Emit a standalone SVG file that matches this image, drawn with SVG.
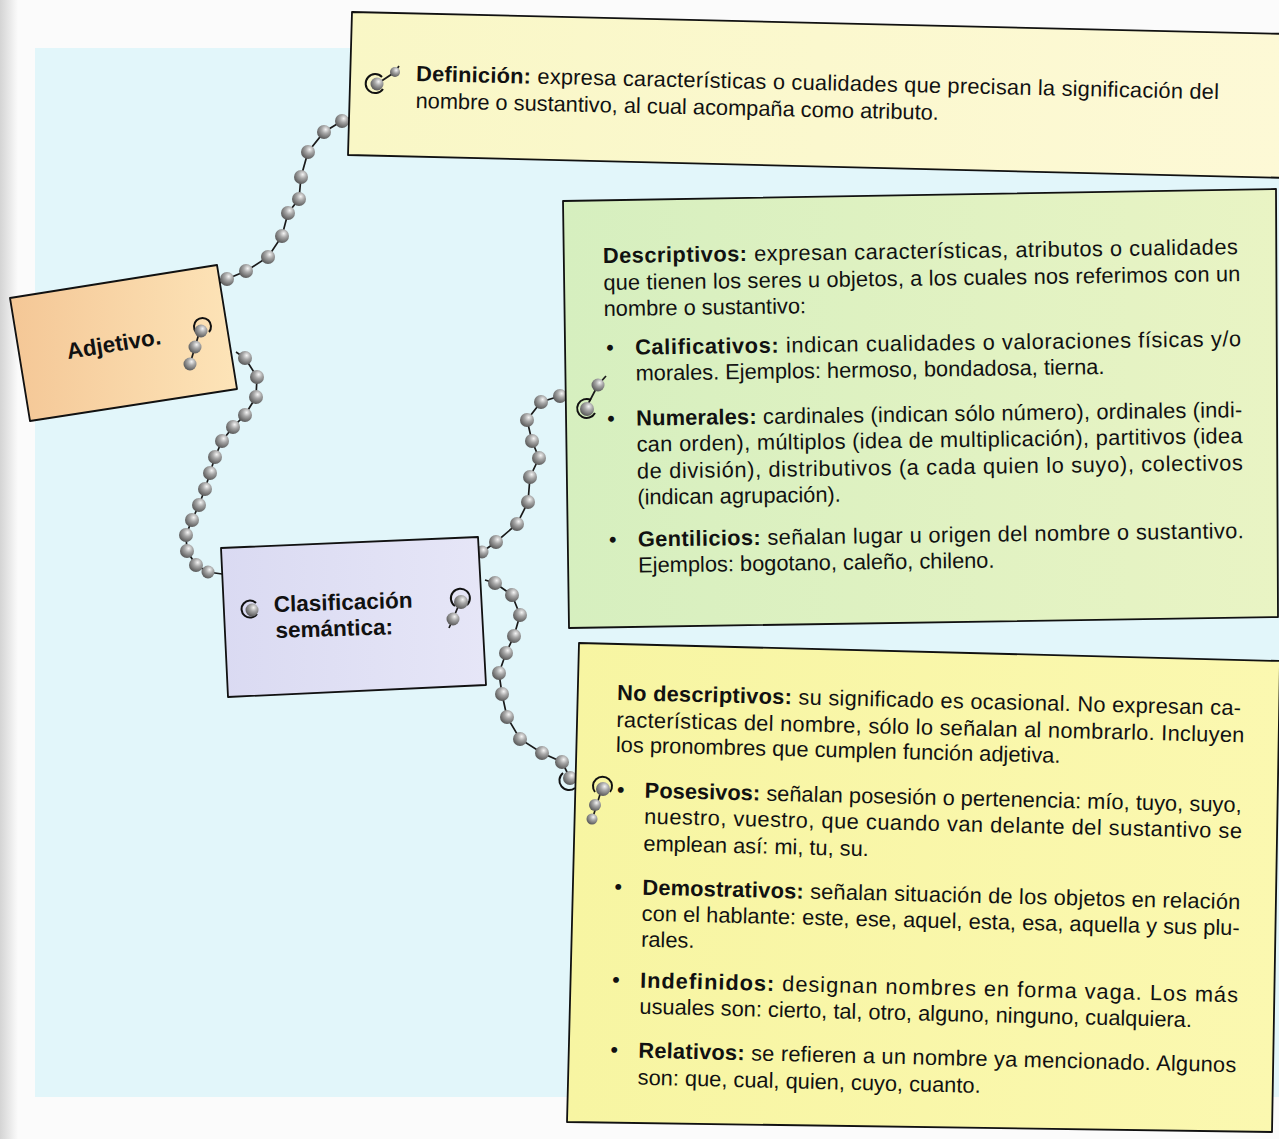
<svg xmlns="http://www.w3.org/2000/svg" width="1279" height="1139" viewBox="0 0 1279 1139">
<defs>
<radialGradient id="bead" cx="0.62" cy="0.32" r="0.8">
<stop offset="0" stop-color="#f4f4f4"/>
<stop offset="0.35" stop-color="#a8a8a8"/>
<stop offset="0.75" stop-color="#6a6a6a"/>
<stop offset="1" stop-color="#4a4a4a"/>
</radialGradient>
<linearGradient id="gAdj" x1="0" y1="0" x2="1" y2="0">
<stop offset="0" stop-color="#f4c796"/>
<stop offset="1" stop-color="#fde4b8"/>
</linearGradient>
<linearGradient id="gCla" x1="0" y1="0" x2="1" y2="0">
<stop offset="0" stop-color="#dadaf2"/>
<stop offset="1" stop-color="#e6e6f7"/>
</linearGradient>
<linearGradient id="gDef" x1="0" y1="0" x2="1" y2="0">
<stop offset="0" stop-color="#f9f7c6"/>
<stop offset="1" stop-color="#fdf9d6"/>
</linearGradient>
<linearGradient id="gDes" x1="0" y1="0" x2="1" y2="0">
<stop offset="0" stop-color="#d6efbf"/>
<stop offset="1" stop-color="#e9f4c4"/>
</linearGradient>
<linearGradient id="gNo" x1="0" y1="0" x2="1" y2="0">
<stop offset="0" stop-color="#f7f5a2"/>
<stop offset="1" stop-color="#fbf8b0"/>
</linearGradient>
<linearGradient id="gStrip" x1="0" y1="0" x2="1" y2="0">
<stop offset="0" stop-color="#d4d4d4"/>
<stop offset="1" stop-color="#fbfbfb"/>
</linearGradient>
</defs>
<style>
.box{stroke:#111;stroke-width:1.8;stroke-linejoin:round}
.t{font-family:"Liberation Sans",Arial,sans-serif;font-size:21.8px;fill:#111}
.b{font-weight:bold}
.h{font-family:"Liberation Sans",Arial,sans-serif;font-size:22.5px;font-weight:bold;fill:#111}
.bd{fill:url(#bead)}
.ln{fill:none;stroke:#1a1a1a;stroke-width:1.7}
.ring{fill:none;stroke:#111;stroke-width:2}
</style>

<rect x="0" y="0" width="1279" height="1139" fill="#fbfbfb"/>
<rect x="0" y="0" width="18" height="1139" fill="url(#gStrip)"/>
<rect x="35" y="48" width="1244" height="1049" fill="#e2f6fa"/>

<g id="connectors">
<polyline class="ln" points="220,283 227,279 246,271 268,257 282,236 288,213 299,199 301,177 308,152 324,132 342,121 349,118"/>
<g>
<circle class="bd" cx="227" cy="279" r="7"/><circle class="bd" cx="246" cy="271" r="7"/><circle class="bd" cx="268" cy="257" r="7"/><circle class="bd" cx="282" cy="236" r="7"/><circle class="bd" cx="288" cy="213" r="7"/><circle class="bd" cx="299" cy="199" r="7"/><circle class="bd" cx="301" cy="177" r="7"/><circle class="bd" cx="308" cy="152" r="7"/><circle class="bd" cx="324" cy="132" r="7"/><circle class="bd" cx="342" cy="121" r="7"/>
</g>
<polyline class="ln" points="236,352 245,358 257,377 256,397 245,415 233,427 222,441 215,457 210,473 205,489 199,505 192,520 186,535 187,551 196,565 208,572 222,574"/>
<g>
<circle class="bd" cx="245" cy="358" r="7"/><circle class="bd" cx="257" cy="377" r="7"/><circle class="bd" cx="256" cy="397" r="7"/><circle class="bd" cx="245" cy="415" r="7"/><circle class="bd" cx="233" cy="427" r="7"/><circle class="bd" cx="222" cy="441" r="7"/><circle class="bd" cx="215" cy="457" r="7"/><circle class="bd" cx="210" cy="473" r="7"/><circle class="bd" cx="205" cy="489" r="7"/><circle class="bd" cx="199" cy="505" r="7"/><circle class="bd" cx="192" cy="520" r="7"/><circle class="bd" cx="186" cy="535" r="7"/><circle class="bd" cx="187" cy="551" r="7"/><circle class="bd" cx="196" cy="565" r="7"/><circle class="bd" cx="208" cy="572" r="6.5"/>
</g>
<polyline class="ln" points="480,554 482,552 496,542 517,524 528,502 530,477 539,458 532,441 527,420 541,402 560,396 566,395"/>
<g>
<circle class="bd" cx="482" cy="552" r="6.5"/><circle class="bd" cx="496" cy="542" r="7"/><circle class="bd" cx="517" cy="524" r="7"/><circle class="bd" cx="528" cy="502" r="7"/><circle class="bd" cx="530" cy="477" r="7"/><circle class="bd" cx="539" cy="458" r="7"/><circle class="bd" cx="532" cy="441" r="7"/><circle class="bd" cx="527" cy="420" r="7"/><circle class="bd" cx="541" cy="402" r="7"/><circle class="bd" cx="560" cy="396" r="7"/>
</g>
<polyline class="ln" points="485,580 495,583 512,595 520,615 514,636 506,653 499,673 502,694 507,717 520,739 542,753 562,762 570,778"/>
<g>
<circle class="bd" cx="495" cy="583" r="7"/><circle class="bd" cx="512" cy="595" r="7"/><circle class="bd" cx="520" cy="615" r="7"/><circle class="bd" cx="514" cy="636" r="7"/><circle class="bd" cx="506" cy="653" r="7"/><circle class="bd" cx="499" cy="673" r="7"/><circle class="bd" cx="502" cy="694" r="7"/><circle class="bd" cx="507" cy="717" r="7"/><circle class="bd" cx="520" cy="739" r="7"/><circle class="bd" cx="542" cy="753" r="7"/><circle class="bd" cx="562" cy="762" r="7"/>
<path class="ring" d="M563,773 A9,9 0 0 0 575,788"/>
<circle class="bd" cx="570" cy="778" r="7"/>
</g>
</g>

<g id="node-definicion">
<polygon class="box" points="352,12 1290,34 1290,178 348,155" fill="url(#gDef)"/>
<path class="ring" d="M382,77 A9.5,9.5 0 1 0 383,89"/>
<line class="ln" x1="377" y1="84" x2="395" y2="72"/>
<line class="ln" x1="395" y1="72" x2="399" y2="66"/>
<circle class="bd" cx="377" cy="84" r="6.5"/>
<circle class="bd" cx="395" cy="72" r="5"/>
<g transform="rotate(1.3 416 81)">
<text class="t" x="416" y="81" textLength="803" lengthAdjust="spacing"><tspan class="b">Definición:</tspan> expresa características o cualidades que precisan la significación del</text>
<text class="t" x="416" y="108">nombre o sustantivo, al cual acompaña como atributo.</text>
</g>
</g>

<g id="node-descriptivos">
<polygon class="box" points="563,201 1276,189 1278,617 569,628" fill="url(#gDes)"/>
<line class="ln" x1="586" y1="408" x2="598" y2="385"/>
<line class="ln" x1="598" y1="385" x2="606" y2="376"/>
<path class="ring" d="M591,400 A9.5,9.5 0 1 0 595,413"/>
<circle class="bd" cx="587" cy="409" r="7"/>
<circle class="bd" cx="598" cy="385" r="6.5"/>
<g transform="rotate(-0.8 603 263)">
<text class="t" x="603" y="263" textLength="635" lengthAdjust="spacing"><tspan class="b">Descriptivos:</tspan> expresan características, atributos o cualidades</text>
<text class="t" x="603" y="290" textLength="637" lengthAdjust="spacing">que tienen los seres u objetos, a los cuales nos referimos con un</text>
<text class="t" x="603" y="316">nombre o sustantivo:</text>
<text class="t" x="605" y="355">•</text>
<text class="t" x="634" y="355" textLength="606" lengthAdjust="spacing"><tspan class="b">Calificativos:</tspan> indican cualidades o valoraciones físicas y/o</text>
<text class="t" x="634" y="381">morales. Ejemplos: hermoso, bondadosa, tierna.</text>
<text class="t" x="605" y="426">•</text>
<text class="t" x="634" y="426" textLength="606" lengthAdjust="spacing"><tspan class="b">Numerales:</tspan> cardinales (indican sólo número), ordinales (indi-</text>
<text class="t" x="634" y="452" textLength="606" lengthAdjust="spacing">can orden), múltiplos (idea de multiplicación), partitivos (idea</text>
<text class="t" x="634" y="479" textLength="606" lengthAdjust="spacing">de división), distributivos (a cada quien lo suyo), colectivos</text>
<text class="t" x="634" y="505">(indican agrupación).</text>
<text class="t" x="605" y="547">•</text>
<text class="t" x="634" y="547" textLength="606" lengthAdjust="spacing"><tspan class="b">Gentilicios:</tspan> señalan lugar u origen del nombre o sustantivo.</text>
<text class="t" x="634" y="573">Ejemplos: bogotano, caleño, chileno.</text>
</g>
</g>

<g id="node-no-descriptivos">
<polygon class="box" points="579,643 1280,661 1272,1132 567,1122" fill="url(#gNo)"/>
<line class="ln" x1="602" y1="788" x2="592" y2="820"/>
<path class="ring" d="M595,792 A9.5,9.5 0 1 1 610,792"/>
<circle class="bd" cx="603" cy="789" r="7"/>
<circle class="bd" cx="595" cy="805" r="6"/>
<circle class="bd" cx="592" cy="819" r="5.5"/>
<g transform="rotate(1.4 617 700)">
<text class="t" x="617" y="700" textLength="624" lengthAdjust="spacing"><tspan class="b">No descriptivos:</tspan> su significado es ocasional. No expresan ca-</text>
<text class="t" x="617" y="727" textLength="628" lengthAdjust="spacing">racterísticas del nombre, sólo lo señalan al nombrarlo. Incluyen</text>
<text class="t" x="617" y="752">los pronombres que cumplen función adjetiva.</text>
<text class="t" x="619" y="797">•</text>
<text class="t" x="647" y="797" textLength="597" lengthAdjust="spacing"><tspan class="b">Posesivos:</tspan> señalan posesión o pertenencia: mío, tuyo, suyo,</text>
<text class="t" x="647" y="823" textLength="598" lengthAdjust="spacing">nuestro, vuestro, que cuando van delante del sustantivo se</text>
<text class="t" x="647" y="850">emplean así: mi, tu, su.</text>
<text class="t" x="619" y="894">•</text>
<text class="t" x="647" y="894" textLength="598" lengthAdjust="spacing"><tspan class="b">Demostrativos:</tspan> señalan situación de los objetos en relación</text>
<text class="t" x="647" y="920" textLength="598" lengthAdjust="spacing">con el hablante: este, ese, aquel, esta, esa, aquella y sus plu-</text>
<text class="t" x="647" y="946">rales.</text>
<text class="t" x="619" y="987">•</text>
<text class="t" x="647" y="987" textLength="598" lengthAdjust="spacing"><tspan class="b">Indefinidos:</tspan> designan nombres en forma vaga. Los más</text>
<text class="t" x="647" y="1013">usuales son: cierto, tal, otro, alguno, ninguno, cualquiera.</text>
<text class="t" x="619" y="1057">•</text>
<text class="t" x="647" y="1057" textLength="598" lengthAdjust="spacing"><tspan class="b">Relativos:</tspan> se refieren a un nombre ya mencionado. Algunos</text>
<text class="t" x="647" y="1084">son: que, cual, quien, cuyo, cuanto.</text>
</g>
</g>

<g id="node-adjetivo">
<polygon class="box" points="10,298 217,265 237,389 30,421" fill="url(#gAdj)"/>
<polyline class="ln" points="200,330 195,347 190,364"/>
<path class="ring" d="M196,332 A8.5,8.5 0 1 1 209,332"/>
<circle class="bd" cx="201" cy="331" r="6.5"/>
<circle class="bd" cx="195" cy="347" r="6.5"/>
<circle class="bd" cx="190" cy="364" r="6.5"/>
<text class="h" x="68" y="359" transform="rotate(-9 68 359)">Adjetivo.</text>
</g>

<g id="node-clasificacion">
<polygon class="box" points="221,548 478,537 486,685 228,697" fill="url(#gCla)"/>
<path class="ring" d="M256,603 A8.5,8.5 0 1 0 257,614"/>
<circle class="bd" cx="252" cy="610" r="6.5"/>
<polyline class="ln" points="460,602 453,619 449,628"/>
<path class="ring" d="M455,606 A9.5,9.5 0 1 1 467,605"/>
<circle class="bd" cx="461" cy="602" r="7"/>
<circle class="bd" cx="453" cy="619" r="6.5"/>
<g transform="rotate(-1.8 274 612)">
<text class="h" x="274" y="612">Clasificación</text>
<text class="h" x="275" y="638">semántica:</text>
</g>
</g>
</svg>
